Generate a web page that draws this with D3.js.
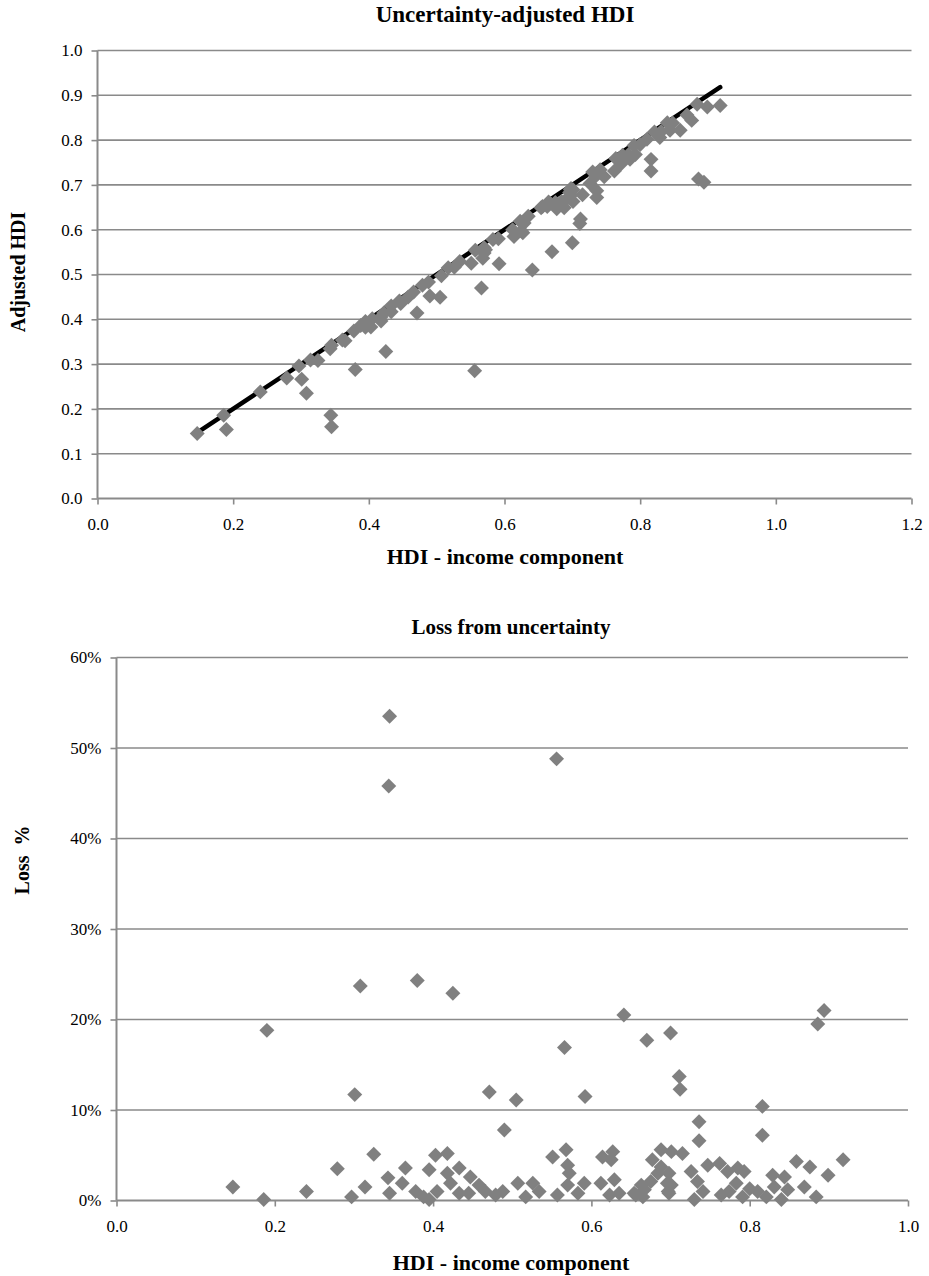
<!DOCTYPE html>
<html>
<head>
<meta charset="utf-8">
<script src="https://cdn.jsdelivr.net/npm/d3@7"></script>
<style>
  html, body { margin: 0; padding: 0; background: #fff; }
  svg text { font-family: "Liberation Serif", "DejaVu Serif", serif; fill: #000; }
</style>
</head>
<body>
<svg id="chart" width="929" height="1276"></svg>
<script>
// ---- data ----
const hdiIncome = [0.147,0.186,0.190,0.240,0.279,0.297,0.301,0.308,0.314,0.325,0.343,0.345,0.345,0.344,0.361,0.365,0.378,0.380,0.388,0.395,0.395,0.403,0.405,0.418,0.418,0.422,0.425,0.433,0.433,0.445,0.447,0.458,0.466,0.471,0.479,0.488,0.490,0.505,0.507,0.517,0.526,0.534,0.551,0.556,0.557,0.566,0.568,0.570,0.572,0.570,0.583,0.591,0.592,0.612,0.614,0.623,0.625,0.627,0.629,0.635,0.641,0.654,0.656,0.663,0.665,0.667,0.670,0.675,0.677,0.684,0.688,0.688,0.696,0.697,0.698,0.698,0.700,0.701,0.701,0.711,0.712,0.715,0.726,0.730,0.734,0.736,0.736,0.741,0.747,0.762,0.764,0.772,0.774,0.783,0.785,0.791,0.793,0.800,0.810,0.816,0.816,0.821,0.829,0.831,0.840,0.844,0.848,0.859,0.869,0.876,0.884,0.886,0.894,0.899,0.918];
const adjustedHDI = [0.145,0.186,0.154,0.238,0.269,0.296,0.266,0.235,0.309,0.308,0.334,0.342,0.160,0.186,0.354,0.352,0.374,0.288,0.386,0.395,0.382,0.383,0.401,0.396,0.405,0.414,0.328,0.417,0.430,0.441,0.435,0.450,0.461,0.414,0.476,0.483,0.452,0.449,0.497,0.515,0.516,0.529,0.525,0.285,0.554,0.470,0.536,0.548,0.555,0.560,0.578,0.580,0.524,0.600,0.585,0.619,0.597,0.593,0.615,0.630,0.510,0.649,0.652,0.652,0.662,0.659,0.551,0.661,0.647,0.663,0.649,0.663,0.683,0.690,0.692,0.677,0.571,0.663,0.689,0.614,0.624,0.678,0.703,0.729,0.719,0.672,0.687,0.734,0.718,0.731,0.759,0.747,0.766,0.768,0.757,0.788,0.768,0.790,0.802,0.731,0.757,0.818,0.806,0.819,0.839,0.822,0.838,0.822,0.856,0.844,0.880,0.713,0.706,0.874,0.877];
const lossPct = [1.5,0.1,18.8,1.0,3.5,0.4,11.7,23.7,1.5,5.1,2.5,0.8,53.5,45.8,1.9,3.6,1.0,24.3,0.4,0.1,3.4,5.0,1.0,5.2,3.0,1.9,22.9,3.6,0.8,0.8,2.6,1.7,1.0,12.0,0.6,1.0,7.8,11.1,1.9,0.4,1.9,1.0,4.8,48.8,0.6,16.9,5.6,3.9,3.0,1.7,0.8,1.9,11.5,1.9,4.8,0.6,4.5,5.4,2.3,0.8,20.5,0.8,0.6,1.7,0.4,1.2,17.7,2.1,4.5,3.0,5.6,3.7,1.9,1.0,0.8,3.0,18.5,5.4,1.7,13.7,12.3,5.2,3.2,0.1,2.1,8.7,6.6,1.0,3.9,4.1,0.6,3.2,1.0,1.9,3.6,0.4,3.2,1.3,1.0,10.4,7.2,0.4,2.8,1.5,0.1,2.6,1.2,4.3,1.5,3.7,0.4,19.5,21.0,2.8,4.5];
const lineX = [0.147, 0.918];
const lineY = [0.147, 0.918];
const topXTicks = [0, 0.2, 0.4, 0.6, 0.8, 1.0, 1.2];
const topYTicks = [0, 0.1, 0.2, 0.3, 0.4, 0.5, 0.6, 0.7, 0.8, 0.9, 1.0];
const botXTicks = [0, 0.2, 0.4, 0.6, 0.8, 1.0];
const botYTicks = [0, 10, 20, 30, 40, 50, 60];

const svg = d3.select("#chart");
const gridColor = "#8a8a8a";
const markColor = "#808080";
const diamond = d3.symbol(d3.symbolSquare, 112);

function panel(o) {
  const x = d3.scaleLinear().domain(o.xDomain).range([o.left, o.right]);
  const y = d3.scaleLinear().domain(o.yDomain).range([o.bottom, o.top]);
  const g = svg.append("g");
  g.selectAll("line.grid").data(o.yTicks.filter(t => t !== o.yDomain[0])).join("line")
    .attr("class", "grid")
    .attr("x1", o.left).attr("x2", o.right)
    .attr("y1", d => y(d)).attr("y2", d => y(d))
    .attr("stroke", gridColor).attr("stroke-width", 1.6);
  const xAxis = d3.axisBottom(x).tickValues(o.xTicks).tickSize(6).tickPadding(13)
    .tickFormat(d3.format(".1f"));
  const yAxis = d3.axisLeft(y).tickValues(o.yTicks).tickSize(6).tickPadding(9)
    .tickFormat(o.yFormat);
  const gx = g.append("g").attr("transform", `translate(0,${o.bottom})`).call(xAxis);
  const gy = g.append("g").attr("transform", `translate(${o.left},0)`).call(yAxis);
  gx.select(".domain").attr("d", `M${o.left},0H${o.right}`);
  gy.select(".domain").attr("d", `M0,${o.bottom}V${o.top}`);
  [gx, gy].forEach(a => {
    a.select(".domain").attr("stroke", gridColor).attr("stroke-width", 2);
    a.selectAll(".tick line").attr("stroke", gridColor).attr("stroke-width", 1.6);
    a.selectAll(".tick text").style("font-family", '"Liberation Serif", serif')
      .style("font-size", "17px").attr("fill", "#000");
  });
  g.append("text").attr("x", o.titleX).attr("y", o.titleY).attr("text-anchor", "middle")
    .style("font-size", o.titleSize).style("font-weight", "bold").text(o.title);
  g.append("text").attr("x", o.titleX).attr("y", o.xLabelY).attr("text-anchor", "middle")
    .style("font-size", "22px").style("font-weight", "bold").text(o.xLabel);
  g.append("text").attr("transform", `translate(${o.yLabelX},${o.yLabelCY}) rotate(-90)`)
    .attr("text-anchor", "middle").style("font-size", "20px").style("font-weight", "bold")
    .style("white-space", "pre").text(o.yLabel);
  return { x, y, g };
}

// ---- top panel ----
const topPanel = panel({
  left: 97.5, right: 911.5, top: 50.5, bottom: 498.5,
  xDomain: [0, 1.2], yDomain: [0, 1],
  xTicks: topXTicks, yTicks: topYTicks, yFormat: d3.format(".1f"),
  title: "Uncertainty-adjusted HDI", titleX: 505, titleY: 22, titleSize: "23px",
  xLabel: "HDI - income component", xLabelY: 564,
  yLabel: "Adjusted HDI", yLabelX: 25, yLabelCY: 272
});
const lineData = lineX.map((v, i) => [v, lineY[i]]);
topPanel.g.append("path").datum(lineData)
  .attr("d", d3.line().x(d => topPanel.x(d[0])).y(d => topPanel.y(d[1])))
  .attr("fill", "none").attr("stroke", "#000").attr("stroke-width", 4.5)
  .attr("stroke-linecap", "round");
topPanel.g.selectAll("path.pt").data(hdiIncome).join("path").attr("class", "pt")
  .attr("d", diamond)
  .attr("transform", (d, i) => `translate(${topPanel.x(d)},${topPanel.y(adjustedHDI[i])}) rotate(45)`)
  .attr("fill", markColor);

// ---- bottom panel ----
const botPanel = panel({
  left: 116.5, right: 908, top: 657.5, bottom: 1200.5,
  xDomain: [0, 1], yDomain: [0, 60],
  xTicks: botXTicks, yTicks: botYTicks, yFormat: d => d + "%",
  title: "Loss from uncertainty", titleX: 511, titleY: 634, titleSize: "21px",
  xLabel: "HDI - income component", xLabelY: 1270,
  yLabel: "Loss  %", yLabelX: 29, yLabelCY: 860
});
botPanel.g.selectAll("path.pt").data(hdiIncome).join("path").attr("class", "pt")
  .attr("d", diamond)
  .attr("transform", (d, i) => `translate(${botPanel.x(d)},${botPanel.y(lossPct[i])}) rotate(45)`)
  .attr("fill", markColor);
</script>
</body>
</html>
